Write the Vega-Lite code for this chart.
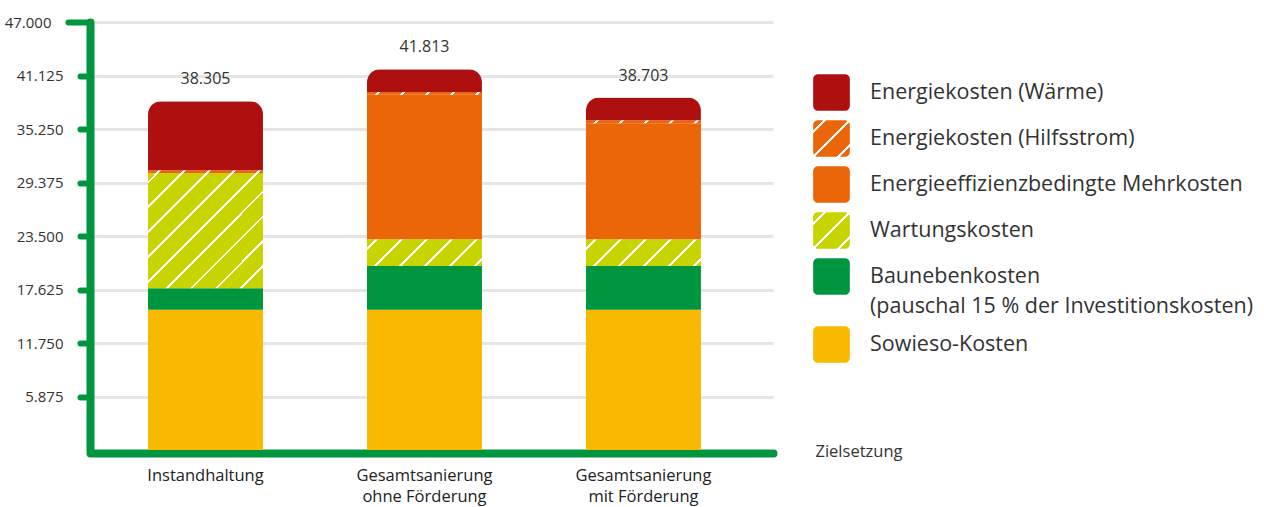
{
  "$schema": "https://vega.github.io/schema/vega-lite/v6.json",
  "autosize": {"type": "none"},
  "padding": {"left": 90, "top": 22, "right": 491, "bottom": 57},
  "width": 683,
  "height": 428,
  "background": "white",
  "config": {
    "view": {"stroke": null},
    "font": "Open Sans",
    "style": {"guide-label": {"lineHeight": 30}},
    "locale": {"number": {"decimal": ",", "thousands": ".", "grouping": [3], "currency": ["", " €"]}}
  },
  "data": {
    "values": [
      {"Zielsetzung": "Instandhaltung", "Kategorie": "Sowieso-Kosten", "Wert": 15400},
      {"Zielsetzung": "Instandhaltung", "Kategorie": "Baunebenkosten (pauschal 15 % der Investitionskosten)", "Wert": 2350},
      {"Zielsetzung": "Instandhaltung", "Kategorie": "Wartungskosten", "Wert": 12650},
      {"Zielsetzung": "Instandhaltung", "Kategorie": "Energiekosten (Hilfsstrom)", "Wert": 330},
      {"Zielsetzung": "Instandhaltung", "Kategorie": "Energiekosten (Wärme)", "Wert": 7575},
      {"Zielsetzung": "Gesamtsanierung ohne Förderung", "Kategorie": "Sowieso-Kosten", "Wert": 15400},
      {"Zielsetzung": "Gesamtsanierung ohne Förderung", "Kategorie": "Baunebenkosten (pauschal 15 % der Investitionskosten)", "Wert": 4800},
      {"Zielsetzung": "Gesamtsanierung ohne Förderung", "Kategorie": "Wartungskosten", "Wert": 2930},
      {"Zielsetzung": "Gesamtsanierung ohne Förderung", "Kategorie": "Energieeffizienzbedingte Mehrkosten", "Wert": 15880},
      {"Zielsetzung": "Gesamtsanierung ohne Förderung", "Kategorie": "Energiekosten (Hilfsstrom)", "Wert": 300},
      {"Zielsetzung": "Gesamtsanierung ohne Förderung", "Kategorie": "Energiekosten (Wärme)", "Wert": 2503},
      {"Zielsetzung": "Gesamtsanierung mit Förderung", "Kategorie": "Sowieso-Kosten", "Wert": 15400},
      {"Zielsetzung": "Gesamtsanierung mit Förderung", "Kategorie": "Baunebenkosten (pauschal 15 % der Investitionskosten)", "Wert": 4800},
      {"Zielsetzung": "Gesamtsanierung mit Förderung", "Kategorie": "Wartungskosten", "Wert": 2930},
      {"Zielsetzung": "Gesamtsanierung mit Förderung", "Kategorie": "Energieeffizienzbedingte Mehrkosten", "Wert": 12750},
      {"Zielsetzung": "Gesamtsanierung mit Förderung", "Kategorie": "Energiekosten (Hilfsstrom)", "Wert": 330},
      {"Zielsetzung": "Gesamtsanierung mit Förderung", "Kategorie": "Energiekosten (Wärme)", "Wert": 2493}
    ]
  },
  "transform": [
    {"calculate": "indexof(['Sowieso-Kosten', 'Baunebenkosten (pauschal 15 % der Investitionskosten)', 'Wartungskosten', 'Energieeffizienzbedingte Mehrkosten', 'Energiekosten (Hilfsstrom)', 'Energiekosten (Wärme)'], datum.Kategorie)", "as": "Stapelfolge"}
  ],
  "encoding": {
    "x": {
      "field": "Zielsetzung",
      "type": "nominal",
      "sort": null,
      "scale": {"paddingInner": 0.475, "paddingOuter": 0.297, "align": 0.446},
      "axis": {
        "title": "Zielsetzung",
        "titleX": 725,
        "titleY": -2,
        "titleAlign": "left",
        "titleBaseline": "middle",
        "titleFontWeight": "normal",
        "titleFontSize": 16.5,
        "titleColor": "#333333",
        "labelAngle": 0,
        "labelFontSize": 16.5,
        "labelColor": "#222222",
        "labelPadding": 14,
        "labelLineHeight": 21,
        "labelLimit": 300,
        "labelExpr": "datum.label === 'Instandhaltung' ? datum.label : ['Gesamtsanierung', substring(datum.label, 16)]",
        "ticks": false,
        "tickSize": 0,
        "domainColor": "#009640",
        "domainWidth": 8,
        "domainCap": "round",
        "offset": 3
      }
    }
  },
  "layer": [
    {
      "mark": {"type": "bar"},
      "encoding": {
        "order": {"field": "Stapelfolge", "type": "quantitative", "sort": "ascending"},
        "y": {
          "aggregate": "sum",
          "field": "Wert",
          "type": "quantitative",
          "stack": "zero",
          "scale": {"domain": [0, 47000], "nice": false},
          "axis": {
            "title": null,
            "values": [5875, 11750, 17625, 23500, 29375, 35250, 41125, 47000],
            "format": ",.0f",
            "grid": true,
            "gridColor": "#e5e5e5",
            "gridWidth": 3,
            "domainColor": "#009640",
            "domainWidth": 8,
            "domainCap": "round",
            "tickColor": "#009640",
            "tickWidth": 6,
            "tickCap": "round",
            "tickSize": {"condition": {"test": "datum.value === 47000", "value": 22}, "value": 10},
            "labelPadding": 17,
            "labelFontSize": 15,
            "labelColor": "#333333"
          }
        },
        "fill": {
          "field": "Kategorie",
          "type": "nominal",
          "sort": ["Energiekosten (Wärme)", "Energiekosten (Hilfsstrom)", "Energieeffizienzbedingte Mehrkosten", "Wartungskosten", "Baunebenkosten (pauschal 15 % der Investitionskosten)", "Sowieso-Kosten"],
          "scale": {
            "domain": ["Energiekosten (Wärme)", "Energiekosten (Hilfsstrom)", "Energieeffizienzbedingte Mehrkosten", "Wartungskosten", "Baunebenkosten (pauschal 15 % der Investitionskosten)", "Sowieso-Kosten"],
            "range": [
              "#ae1010",
              {"expr": "{gradient: 'linear', x1: 0, y1: 0, x2: 1, y2: 1, stops: [{offset: 0, color: '#eb6608'}, {offset: 0.14, color: '#eb6608'}, {offset: 0.14, color: '#ffffff'}, {offset: 0.18, color: '#ffffff'}, {offset: 0.18, color: '#eb6608'}, {offset: 0.48, color: '#eb6608'}, {offset: 0.48, color: '#ffffff'}, {offset: 0.52, color: '#ffffff'}, {offset: 0.52, color: '#eb6608'}, {offset: 0.82, color: '#eb6608'}, {offset: 0.82, color: '#ffffff'}, {offset: 0.86, color: '#ffffff'}, {offset: 0.86, color: '#eb6608'}, {offset: 1, color: '#eb6608'}]}"},
              "#eb6608",
              {"expr": "{gradient: 'linear', x1: 0, y1: 0, x2: 1, y2: 1, stops: [{offset: 0, color: '#c8d400'}, {offset: 0.14, color: '#c8d400'}, {offset: 0.14, color: '#ffffff'}, {offset: 0.18, color: '#ffffff'}, {offset: 0.18, color: '#c8d400'}, {offset: 0.48, color: '#c8d400'}, {offset: 0.48, color: '#ffffff'}, {offset: 0.52, color: '#ffffff'}, {offset: 0.52, color: '#c8d400'}, {offset: 0.82, color: '#c8d400'}, {offset: 0.82, color: '#ffffff'}, {offset: 0.86, color: '#ffffff'}, {offset: 0.86, color: '#c8d400'}, {offset: 1, color: '#c8d400'}]}"},
              "#009640",
              "#f8b900"
            ]
          },
          "condition": [
            {"test": "datum.Kategorie === 'Energiekosten (Wärme)'", "value": "transparent"},
            {
              "test": "datum.Kategorie === 'Wartungskosten' && datum.Zielsetzung === 'Instandhaltung'",
              "value": {
                "gradient": "linear", "x1": 0, "y1": 0, "x2": 1, "y2": 1,
                "stops": [
                  {"offset": 0, "color": "#c8d400"},
                  {"offset": 0.034, "color": "#c8d400"}, {"offset": 0.034, "color": "#ffffff"}, {"offset": 0.046, "color": "#ffffff"}, {"offset": 0.046, "color": "#c8d400"},
                  {"offset": 0.142, "color": "#c8d400"}, {"offset": 0.142, "color": "#ffffff"}, {"offset": 0.154, "color": "#ffffff"}, {"offset": 0.154, "color": "#c8d400"},
                  {"offset": 0.25, "color": "#c8d400"}, {"offset": 0.25, "color": "#ffffff"}, {"offset": 0.262, "color": "#ffffff"}, {"offset": 0.262, "color": "#c8d400"},
                  {"offset": 0.358, "color": "#c8d400"}, {"offset": 0.358, "color": "#ffffff"}, {"offset": 0.37, "color": "#ffffff"}, {"offset": 0.37, "color": "#c8d400"},
                  {"offset": 0.466, "color": "#c8d400"}, {"offset": 0.466, "color": "#ffffff"}, {"offset": 0.478, "color": "#ffffff"}, {"offset": 0.478, "color": "#c8d400"},
                  {"offset": 0.574, "color": "#c8d400"}, {"offset": 0.574, "color": "#ffffff"}, {"offset": 0.586, "color": "#ffffff"}, {"offset": 0.586, "color": "#c8d400"},
                  {"offset": 0.682, "color": "#c8d400"}, {"offset": 0.682, "color": "#ffffff"}, {"offset": 0.694, "color": "#ffffff"}, {"offset": 0.694, "color": "#c8d400"},
                  {"offset": 0.79, "color": "#c8d400"}, {"offset": 0.79, "color": "#ffffff"}, {"offset": 0.802, "color": "#ffffff"}, {"offset": 0.802, "color": "#c8d400"},
                  {"offset": 0.898, "color": "#c8d400"}, {"offset": 0.898, "color": "#ffffff"}, {"offset": 0.91, "color": "#ffffff"}, {"offset": 0.91, "color": "#c8d400"},
                  {"offset": 1, "color": "#c8d400"}
                ]
              }
            },
            {
              "test": "datum.Kategorie === 'Wartungskosten'",
              "value": {
                "gradient": "linear", "x1": 0, "y1": 0, "x2": 1.169, "y2": 0.2715,
                "stops": [
                  {"offset": 0, "color": "#c8d400"},
                  {"offset": 0.06, "color": "#c8d400"}, {"offset": 0.06, "color": "#ffffff"}, {"offset": 0.08, "color": "#ffffff"}, {"offset": 0.08, "color": "#c8d400"},
                  {"offset": 0.2364, "color": "#c8d400"}, {"offset": 0.2364, "color": "#ffffff"}, {"offset": 0.2564, "color": "#ffffff"}, {"offset": 0.2564, "color": "#c8d400"},
                  {"offset": 0.4128, "color": "#c8d400"}, {"offset": 0.4128, "color": "#ffffff"}, {"offset": 0.4328, "color": "#ffffff"}, {"offset": 0.4328, "color": "#c8d400"},
                  {"offset": 0.5892, "color": "#c8d400"}, {"offset": 0.5892, "color": "#ffffff"}, {"offset": 0.6092, "color": "#ffffff"}, {"offset": 0.6092, "color": "#c8d400"},
                  {"offset": 0.7656, "color": "#c8d400"}, {"offset": 0.7656, "color": "#ffffff"}, {"offset": 0.7856, "color": "#ffffff"}, {"offset": 0.7856, "color": "#c8d400"},
                  {"offset": 0.942, "color": "#c8d400"}, {"offset": 0.942, "color": "#ffffff"}, {"offset": 0.962, "color": "#ffffff"}, {"offset": 0.962, "color": "#c8d400"},
                  {"offset": 1, "color": "#c8d400"}
                ]
              }
            },
            {
              "test": "datum.Kategorie === 'Energiekosten (Hilfsstrom)'",
              "value": {
                "gradient": "linear", "x1": 0, "y1": 0, "x2": 1.028, "y2": 0.027,
                "stops": [
                  {"offset": 0, "color": "#eb6608"},
                  {"offset": 0.088, "color": "#eb6608"}, {"offset": 0.088, "color": "#ffffff"}, {"offset": 0.112, "color": "#ffffff"}, {"offset": 0.112, "color": "#eb6608"},
                  {"offset": 0.3, "color": "#eb6608"}, {"offset": 0.3, "color": "#ffffff"}, {"offset": 0.324, "color": "#ffffff"}, {"offset": 0.324, "color": "#eb6608"},
                  {"offset": 0.512, "color": "#eb6608"}, {"offset": 0.512, "color": "#ffffff"}, {"offset": 0.536, "color": "#ffffff"}, {"offset": 0.536, "color": "#eb6608"},
                  {"offset": 0.724, "color": "#eb6608"}, {"offset": 0.724, "color": "#ffffff"}, {"offset": 0.748, "color": "#ffffff"}, {"offset": 0.748, "color": "#eb6608"},
                  {"offset": 0.936, "color": "#eb6608"}, {"offset": 0.936, "color": "#ffffff"}, {"offset": 0.96, "color": "#ffffff"}, {"offset": 0.96, "color": "#eb6608"},
                  {"offset": 1, "color": "#eb6608"}
                ]
              }
            }
          ],
          "legend": {
            "title": null,
            "orient": "none",
            "legendX": 723,
            "legendY": 52,
            "symbolType": "M -0.74 -1 H 0.74 A 0.26 0.26 0 0 1 1 -0.74 V 0.74 A 0.26 0.26 0 0 1 0.74 1 H -0.74 A 0.26 0.26 0 0 1 -1 0.74 V -0.74 A 0.26 0.26 0 0 1 -0.74 -1 Z",
            "symbolSize": 1345,
            "symbolStrokeWidth": 0,
            "symbolOpacity": 1,
            "labelFontSize": 21.5,
            "labelColor": "#333333",
            "labelOffset": 20,
            "rowPadding": 9,
            "labelLimit": 600,
            "padding": 0,
            "labelExpr": "datum.label === 'Baunebenkosten (pauschal 15 % der Investitionskosten)' ? ['Baunebenkosten', '(pauschal 15 % der Investitionskosten)'] : datum.label"
          }
        }
      }
    },
    {
      "mark": {"type": "bar", "color": "#ae1010", "cornerRadiusTopLeft": 13, "cornerRadiusTopRight": 13},
      "encoding": {
        "order": {"field": "Stapelfolge", "type": "quantitative", "sort": "ascending"},
        "detail": {"field": "Kategorie", "type": "nominal"},
        "y": {"aggregate": "sum", "field": "Wert", "type": "quantitative", "stack": "zero"},
        "opacity": {"condition": {"test": "datum.Kategorie === 'Energiekosten (Wärme)'", "value": 1}, "value": 0}
      }
    },
    {
      "mark": {"type": "text", "dy": -22, "fontSize": 16, "color": "#333333", "baseline": "middle"},
      "encoding": {
        "y": {"aggregate": "sum", "field": "Wert", "type": "quantitative"},
        "text": {"aggregate": "sum", "field": "Wert", "type": "quantitative", "format": ","}
      }
    }
  ]
}
